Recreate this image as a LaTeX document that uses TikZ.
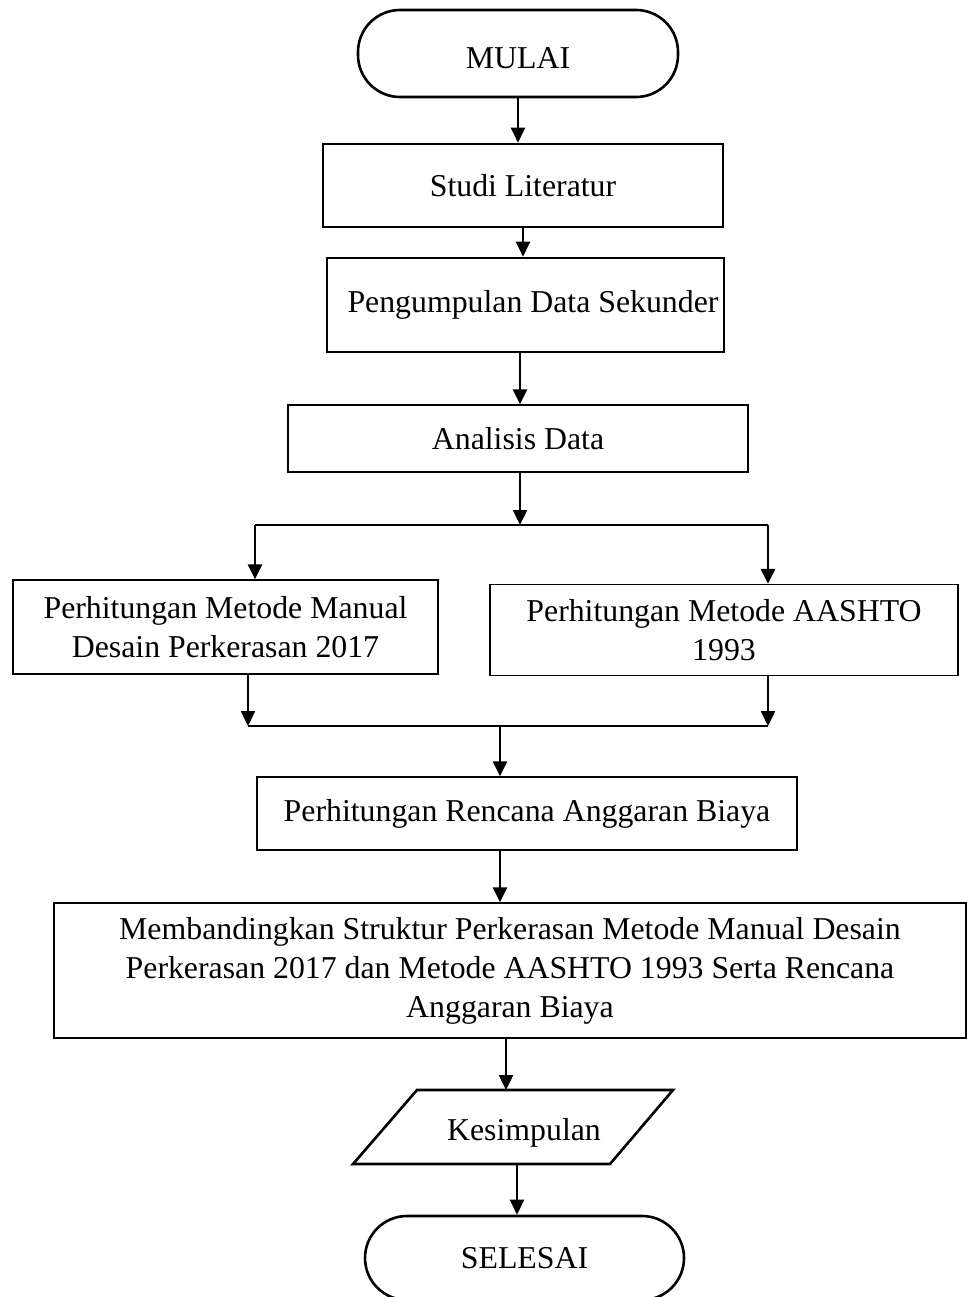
\documentclass[tikz,border=0pt]{standalone}
\usepackage{fontspec}
\setmainfont{Liberation Serif}
\usetikzlibrary{arrows.meta,calc}
\begin{document}
\begin{tikzpicture}[x=1pt,y=-1pt,
  every node/.style={font=\fontsize{31.8}{39}\selectfont, align=center, inner sep=0pt},
  term/.style={draw, line width=2.6pt, rounded corners=42pt},
  thickbox/.style={draw, line width=2.6pt},
  thinbox/.style={draw, line width=1.3pt},
  arr/.style={line width=2.4pt, -{Triangle[length=15pt,width=14pt]}},
  ln/.style={line width=1.6pt}]
\useasboundingbox (0,0) rectangle (966,1297);
% nodes
\node[term, minimum width=320, minimum height=87] (mulai) at (518,53.5) {};
\node at (518,58) {MULAI};
\node[thickbox, minimum width=400, minimum height=83] (studi) at (523,185.5) {Studi Literatur};
\node[thickbox, minimum width=397, minimum height=94] (peng) at (525.5,305) {\hspace*{15pt}Pengumpulan Data Sekunder};
\node[thinbox, minimum width=460, minimum height=67] (anal) at (518,438.5) {Analisis Data};
\node[thinbox, minimum width=425, minimum height=94] (left) at (225.5,627) {Perhitungan Metode Manual\\Desain Perkerasan 2017};
\node[thinbox, minimum width=468, minimum height=91] (right) at (724,630) {Perhitungan Metode AASHTO\\1993};
\node[thinbox, minimum width=540, minimum height=73] (rab) at (527,813.5) {Perhitungan Rencana Anggaran Biaya};
\node[thinbox, minimum width=912, minimum height=135] (band) at (510,970.5) {Membandingkan Struktur Perkerasan Metode Manual Desain\\Perkerasan 2017 dan Metode AASHTO 1993 Serta Rencana\\Anggaran Biaya};
\node (kes) at (524,1133) {Kesimpulan};
\draw[line width=2.6pt, line join=miter] ($(kes)+(-107,-43)$) coordinate (kesNW) -- ($(kes)+(149,-43)$) -- ($(kes)+(86,31)$) -- ($(kes)+(-171,31)$) -- cycle;
\coordinate (kesN) at ($(kes)+(-18,-43)$);
\coordinate (kesS) at ($(kes)+(-7,31)$);
\node[term, minimum width=319, minimum height=84] (sel) at (524.5,1258) {SELESAI};
% junction coordinates
\coordinate (j1) at (520,525);
\coordinate (jL) at (255,525);
\coordinate (jR) at (768,525);
\coordinate (kL) at (248,726);
\coordinate (kR) at (768,726);
\coordinate (k1) at (500,726);
% connectors
\draw[arr] (mulai.south) -- (mulai.south |- studi.north);
\draw[arr] (studi.south) -- (studi.south |- peng.north);
\draw[arr] (j1 |- peng.south) -- (j1 |- anal.north);
\draw[arr] (j1 |- anal.south) -- (j1);
\draw[ln] (jL) -- (jR);
\draw[arr] (jL) -- (jL |- left.north);
\draw[arr] (jR) -- (jR |- right.north);
\draw[arr] (kL |- left.south) -- (kL);
\draw[arr] (kR |- right.south) -- (kR);
\draw[ln] (kL) -- (kR);
\draw[arr] (k1) -- (k1 |- rab.north);
\draw[arr] (k1 |- rab.south) -- (k1 |- band.north);
\draw[arr] (kesN |- band.south) -- (kesN);
\draw[arr] (kesS) -- (kesS |- sel.north);
\end{tikzpicture}
\end{document}
